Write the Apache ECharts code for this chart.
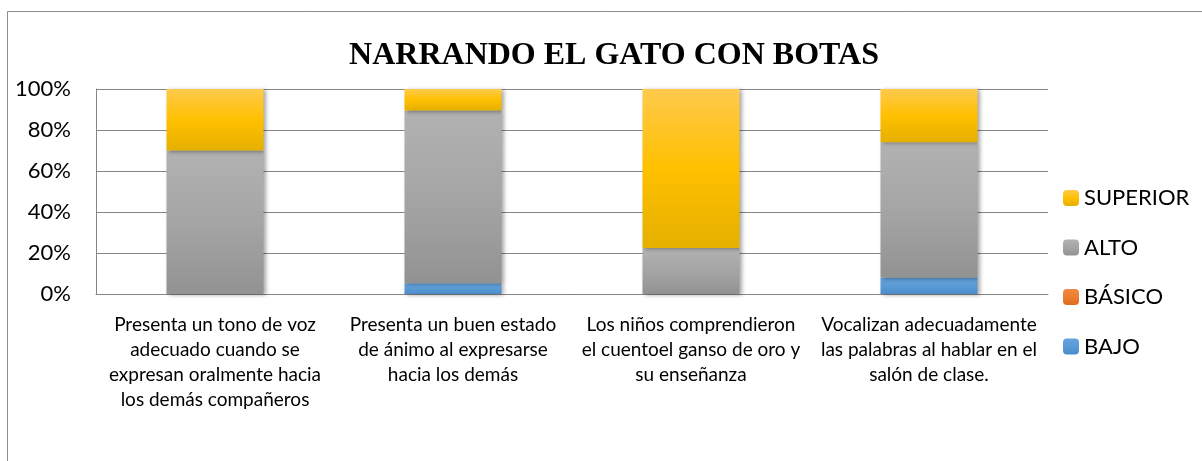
<!DOCTYPE html>
<html>
<head>
<meta charset="utf-8">
<title>NARRANDO EL GATO CON BOTAS</title>
<script src="https://cdn.jsdelivr.net/npm/echarts@6/dist/echarts.min.js"></script>
<style>
    html, body { margin: 0; padding: 0; background: #fff; }
    #container { width: 1202px; height: 461px; }
</style>
</head>
<body>
<div id="container"></div>
<script>
// categorias del eje x (con los saltos de linea del original)
var categories = [
    'Presenta un tono de voz\nadecuado cuando se\nexpresan oralmente hacia\nlos demás compañeros',
    'Presenta un buen estado\nde ánimo al expresarse\nhacia los demás',
    'Los niños comprendieron\nel cuentoel ganso de oro y\nsu enseñanza',
    'Vocalizan adecuadamente\nlas palabras al hablar en el\nsalón de clase.'
];
// porcentajes por nivel
var bajo = [0, 5.3, 0, 8];
var basico = [0, 0, 0, 0];
var alto = [70, 84.2, 22.5, 66];
var superior = [30, 10.5, 77.5, 26];
var legendOrder = ['SUPERIOR', 'ALTO', 'BÁSICO', 'BAJO'];

function grad(top, mid, bottom) {
    return {
        type: 'linear', x: 0, y: 0, x2: 0, y2: 1,
        colorStops: [
            {offset: 0, color: top},
            {offset: 0.5, color: mid},
            {offset: 1, color: bottom}
        ]
    };
}

var shadow = {
    shadowBlur: 4,
    shadowColor: 'rgba(0,0,0,0.35)',
    shadowOffsetX: 2,
    shadowOffsetY: 1
};

function makeSeries(name, data, color) {
    return {
        name: name,
        type: 'bar',
        stack: 'total',
        barWidth: 97,
        data: data,
        itemStyle: Object.assign({color: color}, shadow)
    };
}

var dom = document.getElementById('container');
var myChart = echarts.init(dom);
var option = {
    animation: false,
    title: {
        text: 'NARRANDO EL GATO CON BOTAS',
        left: 609,
        top: 35,
        textAlign: 'center',
        textStyle: {
            fontFamily: 'Liberation Serif',
            fontWeight: 'bold',
            fontSize: 32,
            color: '#000'
        }
    },
    graphic: [{
        type: 'rect',
        silent: true,
        shape: {x: 7.5, y: 11.5, width: 1300, height: 600},
        style: {fill: 'none', stroke: '#8c8c8c', lineWidth: 1}
    }],
    legend: {
        orient: 'vertical',
        left: 1058,
        top: 181,
        itemWidth: 16,
        itemHeight: 16,
        itemGap: 25.5,
        data: legendOrder,
        textStyle: {fontFamily: 'Lato', fontSize: 22, lineHeight: 24, color: '#000'}
    },
    grid: {left: 96, right: 154, top: 89, bottom: 167},
    xAxis: {
        type: 'category',
        data: categories,
        axisTick: {show: false},
        axisLine: {lineStyle: {color: '#868686'}},
        axisLabel: {
            interval: 0,
            margin: 18,
            fontFamily: 'Lato',
            fontSize: 19,
            lineHeight: 25,
            color: '#000'
        }
    },
    yAxis: {
        type: 'value',
        min: 0,
        max: 100,
        interval: 20,
        axisLine: {show: true, lineStyle: {color: '#868686'}},
        axisLabel: {
            formatter: '{value}%',
            margin: 25,
            fontFamily: 'Lato',
            fontSize: 22,
            color: '#000'
        },
        splitLine: {lineStyle: {color: '#868686'}}
    },
    series: [
        makeSeries('BAJO', bajo, grad('#63a2dd', '#5b9bd5', '#4a8ccc')),
        makeSeries('BÁSICO', basico, grad('#f28a42', '#ed7d31', '#e06c1f')),
        makeSeries('ALTO', alto, grad('#b2b2b2', '#a5a5a5', '#929292')),
        makeSeries('SUPERIOR', superior, grad('#ffca4d', '#ffc000', '#e5b000'))
    ]
};
myChart.setOption(option, true);
window.onresize = function() {
    myChart.resize();
};
</script>
</body>
</html>
